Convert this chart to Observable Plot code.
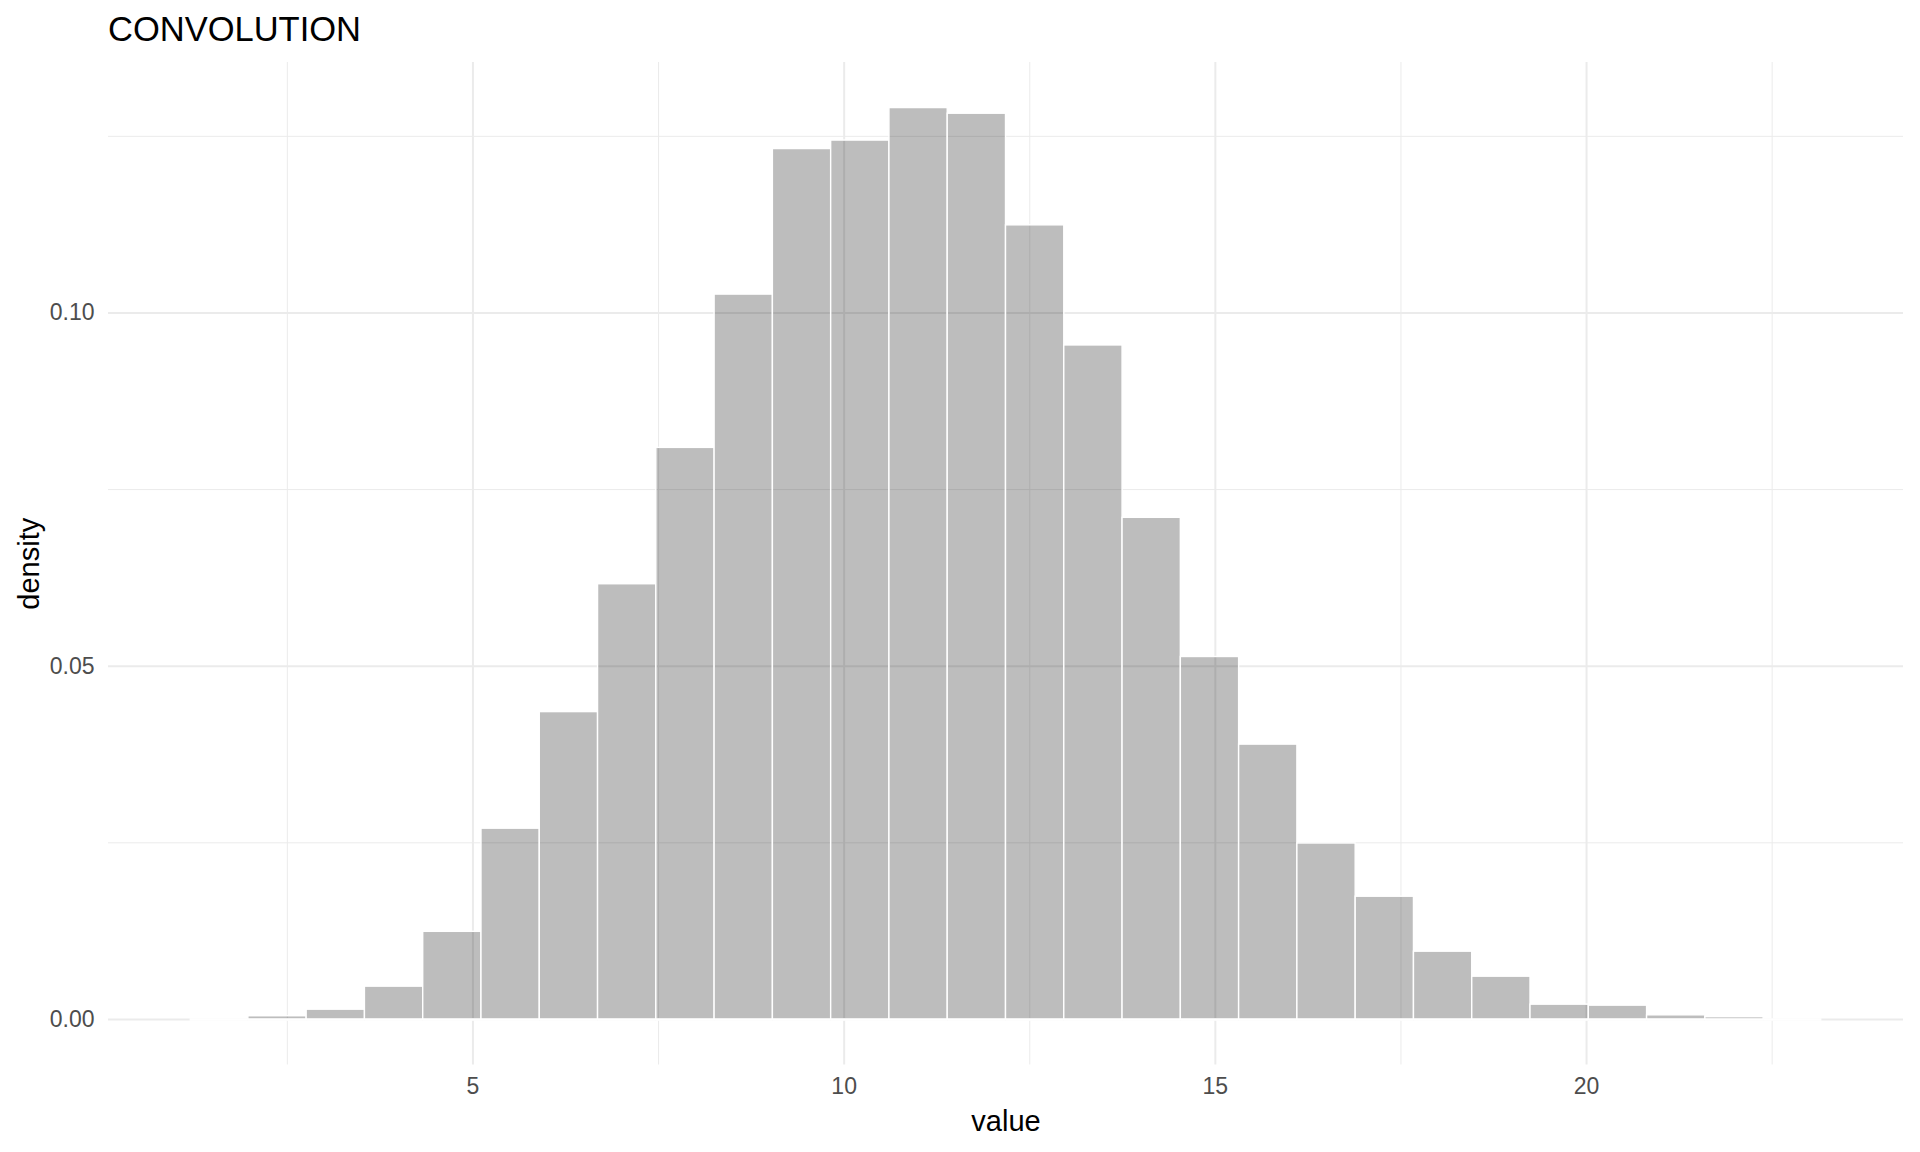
<!DOCTYPE html>
<html><head><meta charset="utf-8">
<script src="https://cdn.jsdelivr.net/npm/d3@7"></script>
<script src="https://cdn.jsdelivr.net/npm/@observablehq/plot@0.6"></script>
<style>
body{margin:0;background:#fff;}
#wrap{position:relative;width:1920px;height:1152px;font-family:"Liberation Sans",Arial,sans-serif;}
#title{position:absolute;left:108px;top:12px;font-size:34.5px;line-height:35px;color:#000;white-space:nowrap;z-index:2;}
#chart{position:absolute;left:0;top:0;}
</style></head>
<body><div id="wrap"><div id="title">CONVOLUTION</div><div id="chart"></div></div>
<script>
// histogram bin edges (value) and density per bin
const binEdges = [1.190, 1.975, 2.760, 3.545, 4.330, 5.115, 5.900, 6.685, 7.470, 8.255,
  9.040, 9.825, 10.610, 11.395, 12.180, 12.965, 13.750, 14.535, 15.320, 16.105,
  16.890, 17.675, 18.460, 19.245, 20.030, 20.815, 21.600, 22.385, 23.170];
const density = [0, 0.00045, 0.00138, 0.00464, 0.0124, 0.0270, 0.0435, 0.0616, 0.0809, 0.1026,
  0.1232, 0.1244, 0.1290, 0.1282, 0.1124, 0.0954, 0.0710, 0.0513, 0.0389, 0.0249,
  0.01737, 0.00959, 0.00605, 0.00209, 0.00195, 0.00058, 0.00032, 0];
const xMajorTicks = [5, 10, 15, 20];
const xMinorTicks = [2.5, 7.5, 12.5, 17.5, 22.5];
const yMajorTicks = [0, 0.05, 0.10];
const yMinorTicks = [0.025, 0.075, 0.125];
const xLabel = "value";
const yLabel = "density";

const bins = density.map((d, i) => ({x1: binEdges[i], x2: binEdges[i + 1], density: d}));
const xmin = binEdges[0], xmax = binEdges[binEdges.length - 1];
const xpad = 0.05 * (xmax - xmin);
const ymax = d3.max(density);
const ypad = 0.05 * ymax;

const font = "'Liberation Sans', Arial, sans-serif";
const chart = Plot.plot({
  width: 1920, height: 1152,
  marginTop: 62, marginBottom: 87.5, marginLeft: 108, marginRight: 17,
  style: {fontFamily: font, background: "transparent", overflow: "visible"},
  x: {domain: [xmin - xpad, xmax + xpad]},
  y: {domain: [-ypad, ymax + ypad]},
  marks: [
    Plot.ruleX(xMinorTicks, {stroke: "#ebebeb", strokeWidth: 1}),
    Plot.ruleY(yMinorTicks, {stroke: "#ebebeb", strokeWidth: 1}),
    Plot.ruleX(xMajorTicks, {stroke: "#ebebeb", strokeWidth: 2}),
    Plot.ruleY(yMajorTicks, {stroke: "#ebebeb", strokeWidth: 2}),
    Plot.ruleY(bins, {y: d => 0, x1: "x1", x2: "x2", stroke: "white", strokeWidth: 2.6}),
    Plot.rect(bins, {x1: "x1", x2: "x2", y1: d => 0, y2: "density", fill: "#000", fillOpacity: 0.26, stroke: "white", strokeWidth: 1.4}),
    Plot.axisX(xMajorTicks, {tickSize: 0, tickPadding: 13, fontSize: 23, color: "#4d4d4d", label: null}),
    Plot.axisY(yMajorTicks, {tickSize: 0, tickPadding: 14, fontSize: 23, color: "#4d4d4d", label: null, tickFormat: d3.format(".2f")}),
    Plot.text([xLabel], {text: d => d, frameAnchor: "bottom", dy: 56.5, fontSize: 29, fill: "#000", lineAnchor: "middle", textAnchor: "middle"}),
    Plot.text([yLabel], {text: d => d, frameAnchor: "left", dx: -79, rotate: -90, fontSize: 29, fill: "#000", lineAnchor: "middle", textAnchor: "middle"})
  ]
});
document.getElementById("chart").appendChild(chart);
</script>
</body></html>
